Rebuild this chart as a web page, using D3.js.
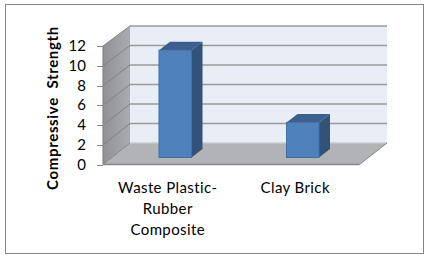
<!DOCTYPE html>
<html><head><meta charset="utf-8">
<script src="https://cdn.jsdelivr.net/npm/d3@7"></script>
<style>html,body{margin:0;padding:0;background:#fff}svg{display:block}text{font-family:Lato,sans-serif;fill:#000}</style>
</head><body><svg id="c" width="427" height="259"></svg>
<script>
const categories=[["Waste Plastic-","Rubber","Composite"],["Clay Brick"]];
const values=[11,3.6];
const ticks=[0,2,4,6,8,10,12];
const axisTitle="Compressive  Strength";
const svg=d3.select("#c");
const frontY=d3.scaleLinear().domain([0,12]).range([164.5,46]);
const backY=d3.scaleLinear().domain([0,12]).range([143,26]);
const barY=d3.scaleLinear().domain([0,12]).range([157.5,40.5]);
const xFront=103,xBack=130,xBackR=387,xFrontR=359.5;
const xBand=d3.scaleBand().domain(d3.range(2)).range([159,319]).paddingInner(0.745).paddingOuter(0);
const dx=11,dy=8.5;
const poly=(pts,fill)=>svg.append("polygon").attr("points",pts.map(d=>d.join(",")).join(" ")).attr("fill",fill);
svg.append("rect").attr("x",5.5).attr("y",4.5).attr("width",418).attr("height",249).attr("fill","#fff").attr("stroke","#868686").attr("stroke-width",1);
const defs=svg.append("defs");
const g=defs.append("linearGradient").attr("id","wall").attr("x1",0).attr("x2",1).attr("y1",0).attr("y2",0);
g.append("stop").attr("offset",0).attr("stop-color","#8f9194");
g.append("stop").attr("offset",1).attr("stop-color","#a9abae");
poly([[xBack,backY(12)],[xBackR,backY(12)],[xBackR,backY(0)],[xBack,backY(0)]],"#e9edf6");
poly([[xFront,frontY(12)],[xBack,backY(12)],[xBack,backY(0)],[xFront,frontY(0)]],"url(#wall)");
poly([[xFront,frontY(0)],[xBack,backY(0)],[xBackR,backY(0)],[xFrontR,frontY(0)]],"#b1b3b6");
ticks.forEach(t=>{
  svg.append("line").attr("x1",xBack).attr("x2",xBackR).attr("y1",backY(t)).attr("y2",backY(t)).attr("stroke",t===0?"#c9cbce":"#9a9a9a").attr("stroke-width",t===0?1.5:1.6);
  svg.append("line").attr("x1",xFront).attr("x2",xBack).attr("y1",frontY(t)).attr("y2",backY(t)).attr("stroke","#808285").attr("stroke-width",1);
  svg.append("line").attr("x1",xFront-6).attr("x2",xFront).attr("y1",Math.round(frontY(t))+.5).attr("y2",Math.round(frontY(t))+.5).attr("stroke","#868686");
  svg.append("text").attr("x",86).attr("y",frontY(t)+5).attr("text-anchor","end").attr("font-size",15).text(t);
});
svg.append("line").attr("x1",xFront).attr("x2",xFront).attr("y1",frontY(12)).attr("y2",frontY(0)).attr("stroke","#868686").attr("stroke-width",1.2);
svg.append("line").attr("x1",xFront).attr("x2",xFrontR).attr("y1",frontY(0)).attr("y2",frontY(0)).attr("stroke","#868686").attr("stroke-width",1.6);
svg.append("line").attr("x1",xFrontR).attr("x2",xBackR).attr("y1",frontY(0)).attr("y2",backY(0)).attr("stroke","#868686").attr("stroke-width",1);
values.forEach((v,i)=>{
  const x0=xBand(i),x1=x0+xBand.bandwidth(),yT=barY(v),yB=barY(0);
  poly([[x1,yT],[x1+dx,yT-dy],[x1+dx,yB-dy],[x1,yB]],"#32527a");
  poly([[x0,yT],[x0+dx,yT-dy],[x1+dx,yT-dy],[x1,yT]],"#3b5f8f");
  svg.append("rect").attr("x",x0).attr("y",yT).attr("width",x1-x0).attr("height",yB-yT).attr("fill","#4f81bd").attr("stroke","#44709f").attr("stroke-width",1);
  const t=svg.append("text").attr("text-anchor","middle").attr("font-size",15).attr("letter-spacing",0.4);
  categories[i].forEach((s,j)=>t.append("tspan").attr("x",(x0+x1)/2-7.5).attr("y",193+j*21).text(s));
});
svg.append("text").attr("transform","translate(58,108) rotate(-90)").attr("text-anchor","middle").attr("font-size",15).attr("letter-spacing",0.65).attr("font-weight","bold").style("white-space","pre").text(axisTitle);
</script></body></html>
